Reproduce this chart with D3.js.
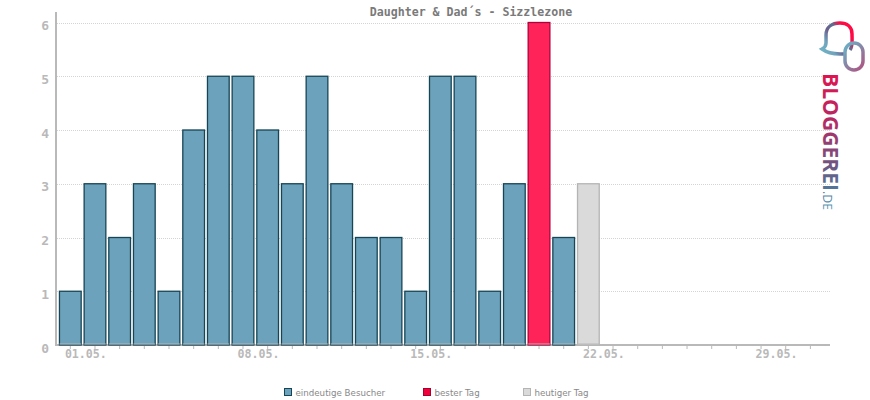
<!DOCTYPE html>
<html><head><meta charset="utf-8">
<script src="https://cdnjs.cloudflare.com/ajax/libs/d3/7.8.5/d3.min.js"></script>
<style>html,body{margin:0;padding:0;background:#fff}svg{display:block}</style>
</head><body><svg id="c" width="870" height="400"></svg>
<script>
const title = "Daughter & Dad´s - Sizzlezone";
const days = ["01.05.","02.05.","03.05.","04.05.","05.05.","06.05.","07.05.","08.05.","09.05.","10.05.","11.05.","12.05.","13.05.","14.05.","15.05.","16.05.","17.05.","18.05.","19.05.","20.05.","21.05.","22.05.","23.05.","24.05.","25.05.","26.05.","27.05.","28.05.","29.05.","30.05.","31.05."];
const visitors = [1,3,2,3,1,4,5,5,4,3,5,3,2,2,1,5,5,1,3,6,2,3];
const dayKinds = ["n","n","n","n","n","n","n","n","n","n","n","n","n","n","n","n","n","n","n","b","n","t"];
const xLabels = ["01.05.","08.05.","15.05.","22.05.","29.05."];
const yTicks = [0,1,2,3,4,5,6];
const legendNames = ["eindeutige Besucher","bester Tag","heutiger Tag"];
const legendFills = ["#6ca2bb","#f0003c","#dadada"];
const legendStrokes = ["#164556","#a8002c","#b4b4b4"];
const legendXs = [284,423,523];
const barFill = {n:"#6ca2bb",b:"#ff2359",t:"#dadada"};
const barStroke = {n:"#164556",b:"#b0003c",t:"#b4b4b4"};
const gray = "#b9b9b9";
const mono = "'DejaVu Sans Mono','Liberation Mono',monospace";

const svg = d3.select("#c");
const x = d3.scaleBand().domain(days).range([56.5,824.2]).padding(0.12);
const y = d3.scaleLinear().domain([0,6]).range([345,22.5]);

// grid
svg.append("g").selectAll("line").data(yTicks.slice(1)).join("line")
  .attr("x1",57).attr("x2",830).attr("y1",d=>Math.round(y(d))+.5).attr("y2",d=>Math.round(y(d))+.5)
  .attr("stroke","#d4d4d4").attr("stroke-width",1).attr("stroke-dasharray","1 1");

// x axis
const xAxis = d3.axisBottom(x).tickSize(4).tickPadding(4).tickFormat(d=>xLabels.includes(d)?d:"");
const gx = svg.append("g").attr("transform","translate(0,345)").call(xAxis);
gx.select(".domain").remove();
gx.selectAll("line").attr("stroke",gray);
gx.selectAll("text").attr("fill",gray).attr("font-family",mono).attr("font-size",11.6).attr("font-weight","bold").attr("dx",15.5).attr("dy",4.5);
svg.append("line").attr("x1",55).attr("x2",830).attr("y1",345).attr("y2",345).attr("stroke",gray).attr("stroke-width",2);

// y axis
const yAxis = d3.axisLeft(y).tickValues(yTicks).tickFormat(d3.format("d")).tickSize(0).tickPadding(7);
const gy = svg.append("g").attr("transform","translate(56,0)").call(yAxis);
gy.select(".domain").remove();
gy.selectAll("text").attr("fill",gray).attr("font-family",mono).attr("font-size",13).attr("font-weight","bold").attr("dy","0.55em");
svg.append("line").attr("x1",56).attr("x2",56).attr("y1",12).attr("y2",346).attr("stroke",gray).attr("stroke-width",2);

// bars
svg.append("g").selectAll("rect").data(visitors).join("rect")
  .attr("x",(d,i)=>x(days[i])).attr("width",x.bandwidth())
  .attr("y",d=>y(d)).attr("height",d=>y(0)-y(d))
  .attr("fill",(d,i)=>barFill[dayKinds[i]]).attr("stroke",(d,i)=>barStroke[dayKinds[i]]).attr("stroke-width",1.3);
svg.append("g").selectAll("line").data(visitors).join("line")
  .attr("x1",(d,i)=>x(days[i])).attr("x2",(d,i)=>x(days[i])+x.bandwidth())
  .attr("y1",344).attr("y2",344).attr("stroke",gray).attr("stroke-width",1);

// title
svg.append("text").attr("x",471).attr("y",16).attr("text-anchor","middle").attr("font-family",mono)
  .attr("font-weight","bold").attr("font-size",11.6).attr("fill","#7a7a7a").text(title);

// legend
const lg = svg.append("g").selectAll("g").data(legendNames).join("g").attr("transform",(d,i)=>`translate(${legendXs[i]},388)`);
lg.append("rect").attr("x",.5).attr("y",.5).attr("width",7).attr("height",7)
  .attr("fill",(d,i)=>legendFills[i]).attr("stroke",(d,i)=>legendStrokes[i]);
lg.append("text").attr("x",11.5).attr("y",7.5).attr("font-family","'DejaVu Sans',sans-serif").attr("font-size",8.7).attr("fill","#888").text(d=>d);

// logo
const defs = svg.append("defs");
const g1 = defs.append("linearGradient").attr("id","lt").attr("gradientUnits","userSpaceOnUse").attr("x1",0).attr("y1",0).attr("x2",137).attr("y2",0);
[[0,"#e0134f"],[.35,"#b52a63"],[.65,"#74517f"],[.85,"#50779a"],[1,"#5b9dba"]].forEach(s=>g1.append("stop").attr("offset",s[0]).attr("stop-color",s[1]));
const g1b = defs.append("linearGradient").attr("id","ld").attr("gradientUnits","userSpaceOnUse").attr("x1",0).attr("y1",0).attr("x2",19).attr("y2",0);
[[0,"#50779a"],[1,"#5b9dba"]].forEach(s=>g1b.append("stop").attr("offset",s[0]).attr("stop-color",s[1]));
const g2 = defs.append("linearGradient").attr("id","b1").attr("gradientUnits","userSpaceOnUse").attr("x1",824).attr("y1",52).attr("x2",854).attr("y2",30);
[[0,"#6fb0c4"],[.2,"#6fa5bd"],[.42,"#6a5f8c"],[.62,"#5c7092"],[.8,"#ff0a45"],[1,"#ff0a45"]].forEach(s=>g2.append("stop").attr("offset",s[0]).attr("stop-color",s[1]));
const g3 = defs.append("linearGradient").attr("id","b2").attr("gradientUnits","userSpaceOnUse").attr("x1",845).attr("y1",50).attr("x2",865).attr("y2",68);
[[0,"#6fa8bf"],[1,"#b0517f"]].forEach(s=>g3.append("stop").attr("offset",s[0]).attr("stop-color",s[1]));
svg.append("path").attr("d","M850 50 C853 46 852 40 852 34 C852 27 847 23 840 23 C832 23 826 27 826 35 L826 43 C826 46 824 48 822 49 C826 52 832 54 840 54 L846 54")
  .attr("fill","none").attr("stroke","url(#b1)").attr("stroke-width",3.5);
svg.append("rect").attr("x",845).attr("y",43).attr("width",18).attr("height",27).attr("rx",9)
  .attr("fill","none").attr("stroke","url(#b2)").attr("stroke-width",3.5);
svg.append("text").attr("transform","translate(823,73) rotate(90)").attr("font-family","'Open Sans','DejaVu Sans',sans-serif")
  .attr("font-weight","bold").attr("font-size",22).attr("textLength",118).attr("lengthAdjust","spacingAndGlyphs").attr("fill","url(#lt)").text("BLOGGEREI");
svg.append("text").attr("transform","translate(823,191) rotate(90)").attr("font-family","'Open Sans','DejaVu Sans',sans-serif")
  .attr("font-size",13).attr("textLength",19).attr("lengthAdjust","spacingAndGlyphs").attr("fill","url(#ld)").text(".DE");
</script></body></html>
